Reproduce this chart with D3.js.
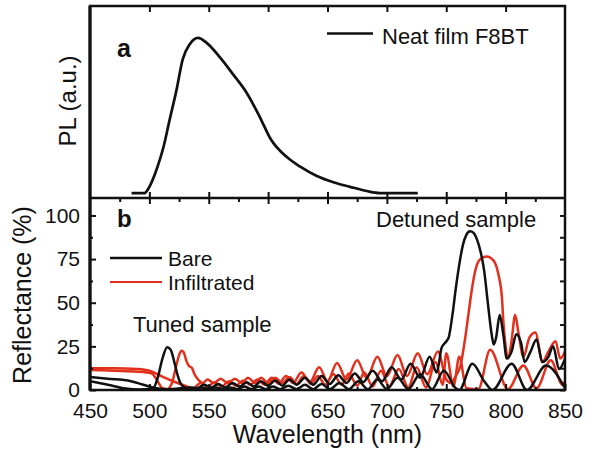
<!DOCTYPE html>
<html><head><meta charset="utf-8">
<script src="https://cdn.jsdelivr.net/npm/d3@7"></script>
<style>
html,body{margin:0;padding:0;background:#fff;}
svg{display:block;font-family:"Liberation Sans",Arial,Helvetica,sans-serif;}
</style></head>
<body>
<svg id="chart" width="589" height="452"></svg>
<script>
// ---------- data ----------
const xTicksMajor = [450,500,550,600,650,700,750,800,850];
const xTicksMinor = [475,525,575,625,675,725,775,825];
const yTicksMajor = [0,25,50,75,100];
const yTicksMinor = [12.5,37.5,62.5,87.5];

// Panel a: PL of neat F8BT film
const plWl = [485,496,500,506,512,517,523,528,534,541,548,560,570,582,593,602,616,627,641,655,669,683,694,726];
const plVal = [0,0,0.04,0.15,0.30,0.47,0.67,0.86,0.96,1.0,0.97,0.87,0.77,0.645,0.49,0.35,0.23,0.17,0.11,0.07,0.04,0.013,0,0];

// Panel b: reflectance (%)
const bareTunedWl = [450,465,480,492,503,507,511,515,518,521,524,527,531,538,544,550,556,562,568,574,580,586,592,598,604,610,617,624,631,638,645,652,660,668,676,684,692,700,709,718,728,738,748,758,761,772,782,789,805,818,834,850];
const bareTuned   = [5,3,0.8,0.3,0.8,7,18,24.5,23,16,8,3,1,0.5,1.5,0.5,1.5,0.5,1.5,0.5,2,0.5,2,0.5,2,0.5,2.5,0.5,3,0.5,3.5,0.5,4,0.5,5,0.5,6,0.5,7,0.5,9,0.5,11,1,0,15,5,0,15,0,14,1];

const bareDetunedWl = [450,465,482,495,506,515,525,535,540,546,552,558,564,570,576,582,588,594,600,606,612,618,624,631,638,645,652,659,666,673,680,688,696,704,712,720,728,736,742,746,749,752,755,758,761,764,767,770,773,776,779,782,785,788,790,792,795,798,801,805,809,813,816,821,826,831,836,840,845,850];
const bareDetuned   = [7.5,6.5,5.5,3,1,0.5,0.8,1.5,1,3,1.5,3.5,1.5,4,2,4.5,2,5,2.5,5.5,2.5,6,3,7,3,8,3.5,8.5,4,9.5,4.5,11,5,13,6,15,7,19,10,24,27,30,42,58,72,83,89,91,90,86,79,68,50,33,26,30,43,32,18,22,32,27,16,22,29,16,19,25,12,18];

const infTunedWl = [450,470,490,502,507,511,515,519,522,525,527,529,531,533,536,538,541,545,549,554,560,566,572,578,583,589,594,600,606,612,618,624,630,636,642,648,655,662,668,675,681,688,695,702,710,718,725,733,741,747,750,756,761,767,777,787,802,815,826,838,848,850];
const infTuned   = [11.5,11,10.5,9.5,5,1,0.5,4,12,20,22.5,21.5,17,14,12.5,9,6,4,6,4,6.5,4,6.5,4,7,4,7,4,7,4,7.5,3.5,8,3.5,8,3,9,3,9.5,2.5,10,2,11,2,12,1.5,13,1.5,16,3,21,2,19,1,0.5,23,0.5,14,1,17,3,5];

const infDetunedWl = [450,470,490,500,510,520,530,537,543,549,555,561,567,573,579,585,591,597,603,609,615,621,628,635,643,650,658,666,675,683,692,700,709,717,726,734,743,750,754,758,762,766,769,771,774,778,784,790,794,797,798,800,802,805,808,811,815,820,825,831,836,842,846,850];
const infDetuned   = [12.5,12.5,12,11,8,5,2.5,1,4,2,4.5,2,5,2.5,5.5,3,6,3,7,3.5,8,4,10,4.5,13,5,15.5,6,17,7,19,8,20,8,21,9,22,6,4,8,14,30,45,55,67,74.5,76.5,74,66,52,40,25,18,28,43,32,19,30,33,16,22,28,18,22];

// ---------- layout ----------
const svg = d3.select("#chart");
const X0 = 90, X1 = 565, YT = 6, YM = 198, YB = 390;
const red = "#e2301c", blk = "#111";

const x = d3.scaleLinear().domain([450,850]).range([X0,X1]);
const yTop = d3.scaleLinear().domain([-0.032,1.206]).range([YM,YT]);
const yBot = d3.scaleLinear().domain([0,110]).range([YB,YM]);

svg.append("defs").append("clipPath").attr("id","clipB")
  .append("rect").attr("x",X0).attr("y",YM).attr("width",X1-X0).attr("height",YB-YM);
svg.select("defs").append("clipPath").attr("id","clipT")
  .append("rect").attr("x",X0).attr("y",YT).attr("width",X1-X0).attr("height",YM-YT);

// ---------- curves ----------
const lineT = d3.line().x(d=>x(d[0])).y(d=>yTop(d[1])).curve(d3.curveMonotoneX);
const lineB = d3.line().x(d=>x(d[0])).y(d=>yBot(d[1])).curve(d3.curveMonotoneX);
const zip = (a,b)=>a.map((v,i)=>[v,b[i]]);

svg.append("path").attr("clip-path","url(#clipT)")
  .attr("d", lineT(zip(plWl,plVal)))
  .attr("fill","none").attr("stroke",blk).attr("stroke-width",2.7).attr("stroke-linejoin","round");

const gB = svg.append("g").attr("clip-path","url(#clipB)");
[[infDetunedWl,infDetuned,red],[infTunedWl,infTuned,red],[bareDetunedWl,bareDetuned,blk],[bareTunedWl,bareTuned,blk]]
 .forEach(([w,v,c])=>{
  gB.append("path").attr("d", lineB(zip(w,v)))
    .attr("fill","none").attr("stroke",c).attr("stroke-width",2.5).attr("stroke-linejoin","round");
 });

// ---------- axes / ticks ----------
function styleAxis(g, fs){
  g.select(".domain").remove();
  g.selectAll(".tick line").attr("stroke",blk).attr("stroke-width",2);
  g.selectAll(".tick text").attr("fill",blk).style("font-size",fs+"px").style("font-family","'Liberation Sans',Arial,sans-serif");
}
// bottom axis with labels (ticks inward)
svg.append("g").attr("transform",`translate(0,${YB})`)
  .call(d3.axisBottom(x).tickValues(xTicksMajor).tickSizeInner(-6).tickSizeOuter(0).tickPadding(13).tickFormat(d3.format("d")))
  .call(g=>styleAxis(g,21));
svg.append("g").attr("transform",`translate(0,${YB})`)
  .call(d3.axisBottom(x).tickValues(xTicksMinor).tickSizeInner(-3).tickSizeOuter(0).tickFormat(""))
  .call(g=>styleAxis(g,21));
// left axis panel b
svg.append("g").attr("transform",`translate(${X0},0)`)
  .call(d3.axisLeft(yBot).tickValues(yTicksMajor).tickSizeInner(-6).tickSizeOuter(0).tickPadding(10))
  .call(g=>styleAxis(g,21));
svg.append("g").attr("transform",`translate(${X0},0)`)
  .call(d3.axisLeft(yBot).tickValues(yTicksMinor).tickSizeInner(-3).tickSizeOuter(0).tickFormat(""))
  .call(g=>styleAxis(g,21));
// right axis panel b
svg.append("g").attr("transform",`translate(${X1},0)`)
  .call(d3.axisRight(yBot).tickValues(yTicksMajor.concat(yTicksMinor)).tickSizeInner(-5).tickSizeOuter(0).tickFormat(""))
  .call(g=>styleAxis(g,21));
// middle divider ticks (crossing)
svg.append("g").attr("transform",`translate(0,${YM})`)
  .call(d3.axisBottom(x).tickValues(xTicksMajor.slice(1,-1)).tickSizeInner(6).tickSizeOuter(0).tickFormat(""))
  .call(g=>styleAxis(g,21));
svg.append("g").attr("transform",`translate(0,${YM})`)
  .call(d3.axisTop(x).tickValues(xTicksMajor.slice(1,-1)).tickSizeInner(6).tickSizeOuter(0).tickFormat(""))
  .call(g=>styleAxis(g,21));
svg.append("g").attr("transform",`translate(0,${YM})`)
  .call(d3.axisBottom(x).tickValues(xTicksMinor).tickSizeInner(4).tickSizeOuter(0).tickFormat(""))
  .call(g=>styleAxis(g,21));
// top edge ticks
svg.append("g").attr("transform",`translate(0,${YT})`)
  .call(d3.axisBottom(x).tickValues(xTicksMajor.slice(1,-1)).tickSizeInner(6).tickSizeOuter(0).tickFormat(""))
  .call(g=>styleAxis(g,21));

// frame
svg.append("rect").attr("x",X0).attr("y",YT).attr("width",X1-X0).attr("height",YB-YT)
  .attr("fill","none").attr("stroke",blk).attr("stroke-width",2.5);
svg.append("line").attr("x1",X0).attr("x2",X0).attr("y1",YT).attr("y2",YB).attr("stroke",blk).attr("stroke-width",3.2);
svg.append("line").attr("x1",X0).attr("x2",X1).attr("y1",YM).attr("y2",YM).attr("stroke",blk).attr("stroke-width",2.5);

// ---------- text ----------
const txt = (s,xx,yy,fs,opt={})=>{
  const t = svg.append("text").attr("x",xx).attr("y",yy).text(s)
    .style("font-size",fs+"px").attr("fill",opt.fill||blk);
  if(opt.bold) t.style("font-weight","bold");
  if(opt.anchor) t.attr("text-anchor",opt.anchor);
  if(opt.rot) t.attr("transform",`rotate(-90,${xx},${yy})`);
  return t;
};
txt("Wavelength (nm)", (X0+X1)/2, 443, 25, {anchor:"middle"});
txt("Reflectance (%)", 31, 295, 25, {anchor:"middle", rot:true});
txt("PL (a.u.)", 76, 101, 24, {anchor:"middle", rot:true});
txt("a", 117, 57, 25, {bold:true});
txt("b", 117, 227, 24, {bold:true});
txt("Detuned sample", 376, 227, 22);
txt("Tuned sample", 133, 332, 22);

// legends
svg.append("line").attr("x1",327).attr("x2",373).attr("y1",33.5).attr("y2",33.5).attr("stroke",blk).attr("stroke-width",2.5);
txt("Neat film F8BT", 382, 44, 22);
svg.append("line").attr("x1",110).attr("x2",162).attr("y1",258).attr("y2",258).attr("stroke",blk).attr("stroke-width",2.5);
txt("Bare", 168, 266, 21);
svg.append("line").attr("x1",110).attr("x2",162).attr("y1",282).attr("y2",282).attr("stroke",red).attr("stroke-width",2);
txt("Infiltrated", 168, 290, 21);
</script>
</body></html>
